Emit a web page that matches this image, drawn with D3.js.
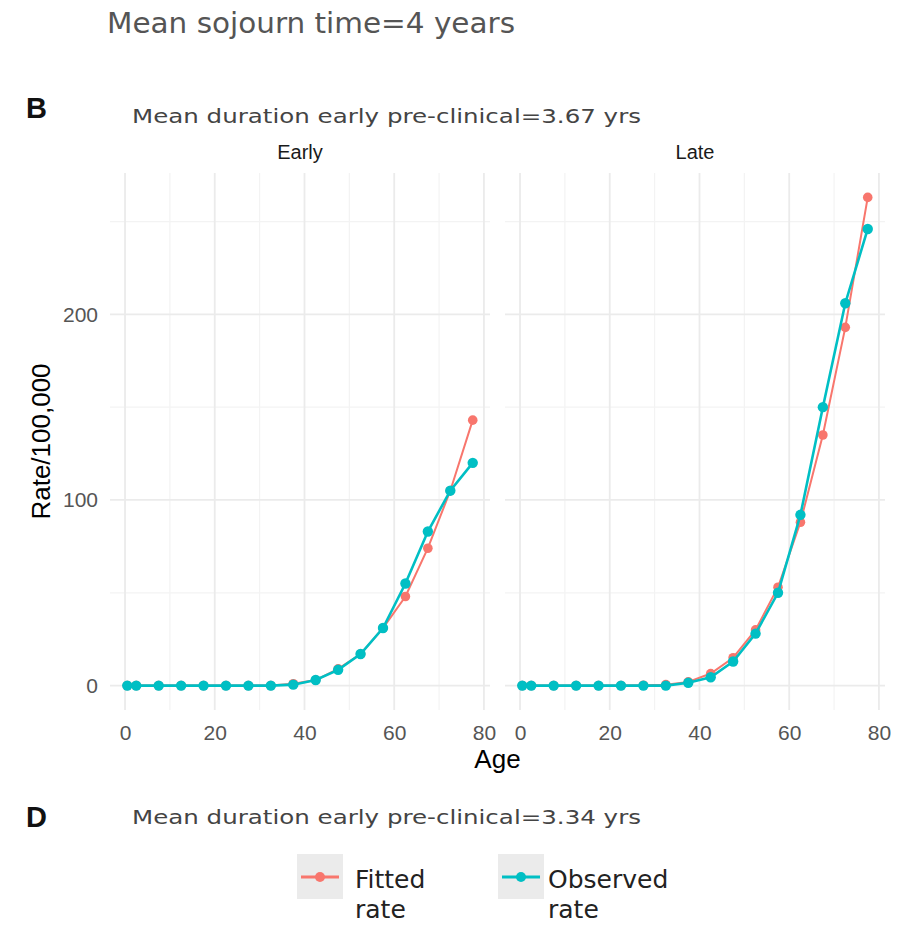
<!DOCTYPE html>
<html>
<head>
<meta charset="utf-8">
<script src="https://cdn.jsdelivr.net/npm/d3@7"></script>
<style>
  body { margin: 0; background: #fff; }
  svg { display: block; }
</style>
</head>
<body>
<svg></svg>
<script>
const [width, height] = [913, 925];

// age group midpoints
const ages = [0.5, 2.5, 7.5, 12.5, 17.5, 22.5, 27.5, 32.5, 37.5, 42.5, 47.5, 52.5, 57.5, 62.5, 67.5, 72.5, 77.5];
const earlyFitted   = [0, 0, 0, 0, 0, 0, 0, 0, 1, 3, 9, 17, 31, 48, 74, 105, 143];
const earlyObserved = [0, 0, 0, 0, 0, 0, 0, 0, 0.5, 3, 8.5, 17, 31, 55, 83, 105, 120];
const lateFitted    = [0, 0, 0, 0, 0, 0, 0.2, 0.5, 2, 6.5, 15, 30, 53, 88, 135, 193, 263];
const lateObserved  = [0, 0, 0, 0, 0, 0, 0, 0, 1.5, 4.5, 13, 28, 50, 92, 150, 206, 246];

const panelNames = ['Early', 'Late'];
const seriesNames = ['Fitted rate', 'Observed rate'];
const xTicks = [0, 20, 40, 60, 80];
const xMinor = [10, 30, 50, 70];
const yTicks = [0, 100, 200];
const yMinor = [50, 150, 250];

const colors = { 'Fitted rate': '#F8766D', 'Observed rate': '#00BFC4' };

const panels = [
  { name: panelNames[0], series: [earlyFitted, earlyObserved], left: 110 },
  { name: panelNames[1], series: [lateFitted, lateObserved], left: 505 }
];
const panelW = 380;
const plotTop = 173, plotBottom = 710;

const svg = d3.select('svg').attr('width', width).attr('height', height);
svg.append('rect').attr('width', width).attr('height', height).attr('fill', '#fff');

// ggplot-like 5% expansion
const xExt = d3.extent(ages);
const xPad = (xExt[1] - xExt[0]) * 0.05;
const yMax = d3.max([...earlyFitted, ...earlyObserved, ...lateFitted, ...lateObserved]);
const y = d3.scaleLinear().domain([-yMax * 0.05, yMax * 1.05]).range([plotBottom, plotTop]);

// titles
svg.append('text').attr('x', 107).attr('y', 33)
  .attr('font-family', 'DejaVu Sans').attr('font-size', 28).attr('fill', '#555')
  .attr('textLength', 408).attr('lengthAdjust', 'spacingAndGlyphs')
  .text('Mean sojourn time=4 years');

svg.append('text').attr('x', 26).attr('y', 118)
  .attr('font-family', 'Liberation Sans').attr('font-weight', 'bold').attr('font-size', 29).attr('fill', '#111')
  .text('B');
svg.append('text').attr('x', 132).attr('y', 123)
  .attr('font-family', 'DejaVu Sans').attr('font-size', 20).attr('fill', '#444')
  .attr('textLength', 509).attr('lengthAdjust', 'spacingAndGlyphs')
  .text('Mean duration early pre-clinical=3.67 yrs');

panels.forEach(p => {
  const x = d3.scaleLinear().domain([xExt[0] - xPad, xExt[1] + xPad]).range([p.left, p.left + panelW]);
  const g = svg.append('g');

  // grid
  g.selectAll('.vminor').data(xMinor).join('line')
    .attr('x1', d => x(d)).attr('x2', d => x(d)).attr('y1', plotTop).attr('y2', plotBottom)
    .attr('stroke', '#f3f3f3').attr('stroke-width', 1.2);
  g.selectAll('.hminor').data(yMinor).join('line')
    .attr('x1', p.left).attr('x2', p.left + panelW).attr('y1', d => y(d)).attr('y2', d => y(d))
    .attr('stroke', '#f3f3f3').attr('stroke-width', 1.2);
  g.selectAll('.vmajor').data(xTicks).join('line')
    .attr('x1', d => x(d)).attr('x2', d => x(d)).attr('y1', plotTop).attr('y2', plotBottom)
    .attr('stroke', '#ebebeb').attr('stroke-width', 1.8);
  g.selectAll('.hmajor').data(yTicks).join('line')
    .attr('x1', p.left).attr('x2', p.left + panelW).attr('y1', d => y(d)).attr('y2', d => y(d))
    .attr('stroke', '#ebebeb').attr('stroke-width', 1.8);

  // strip label
  g.append('text').attr('x', p.left + panelW / 2).attr('y', 159)
    .attr('text-anchor', 'middle').attr('font-family', 'Liberation Sans').attr('font-size', 20)
    .attr('fill', '#1a1a1a').text(p.name);

  // x axis
  const xa = g.append('g').attr('transform', `translate(0,${plotBottom})`)
    .call(d3.axisBottom(x).tickValues(xTicks).tickSize(0).tickPadding(15));
  xa.select('.domain').remove();
  xa.selectAll('text').attr('font-family', 'Liberation Sans').attr('font-size', 21).attr('fill', '#555');

  // lines + points
  p.series.forEach((vals, i) => {
    const name = seriesNames[i];
    const pts = ages.map((a, j) => [a, vals[j]]);
    g.append('path').datum(pts)
      .attr('d', d3.line().x(d => x(d[0])).y(d => y(d[1])))
      .attr('fill', 'none').attr('stroke', colors[name]).attr('stroke-width', i ? 2.6 : 2);
    g.selectAll(null).data(pts).join('circle')
      .attr('cx', d => x(d[0])).attr('cy', d => y(d[1])).attr('r', i ? 5.2 : 4.8)
      .attr('fill', colors[name]);
  });
});

// y axis
const ya = svg.append('g').attr('transform', `translate(110,0)`)
  .call(d3.axisLeft(y).tickValues(yTicks).tickSize(0).tickPadding(12));
ya.select('.domain').remove();
ya.selectAll('text').attr('font-family', 'Liberation Sans').attr('font-size', 21).attr('fill', '#555');

// axis titles
svg.append('text').attr('transform', `translate(50,${(plotTop + plotBottom) / 2}) rotate(-90)`)
  .attr('text-anchor', 'middle').attr('font-family', 'Liberation Sans').attr('font-size', 26)
  .attr('fill', '#000').text('Rate/100,000');
svg.append('text').attr('x', (110 + 505 + panelW) / 2).attr('y', 768)
  .attr('text-anchor', 'middle').attr('font-family', 'Liberation Sans').attr('font-size', 26)
  .attr('fill', '#000').text('Age');

// panel D header
svg.append('text').attr('x', 26).attr('y', 827)
  .attr('font-family', 'Liberation Sans').attr('font-weight', 'bold').attr('font-size', 29).attr('fill', '#111')
  .text('D');
svg.append('text').attr('x', 132).attr('y', 824)
  .attr('font-family', 'DejaVu Sans').attr('font-size', 20).attr('fill', '#444')
  .attr('textLength', 509).attr('lengthAdjust', 'spacingAndGlyphs')
  .text('Mean duration early pre-clinical=3.34 yrs');

// legend
const legendX = [297, 498];
seriesNames.forEach((name, i) => {
  const lg = svg.append('g').attr('transform', `translate(${legendX[i]},854)`);
  lg.append('rect').attr('width', 46).attr('height', 45).attr('fill', '#ebebeb');
  lg.append('line').attr('x1', 4).attr('x2', 42).attr('y1', 23).attr('y2', 23)
    .attr('stroke', colors[name]).attr('stroke-width', 3);
  lg.append('circle').attr('cx', 23).attr('cy', 23).attr('r', 5).attr('fill', colors[name]);
  const words = name.split(' ');
  const t = lg.append('text').attr('font-family', 'DejaVu Sans').attr('font-size', 25).attr('fill', '#222');
  words.forEach((w, k) => {
    t.append('tspan').attr('x', i ? 50 : 58).attr('y', 34 + k * 30).text(w);
  });
});
</script>
</body>
</html>
